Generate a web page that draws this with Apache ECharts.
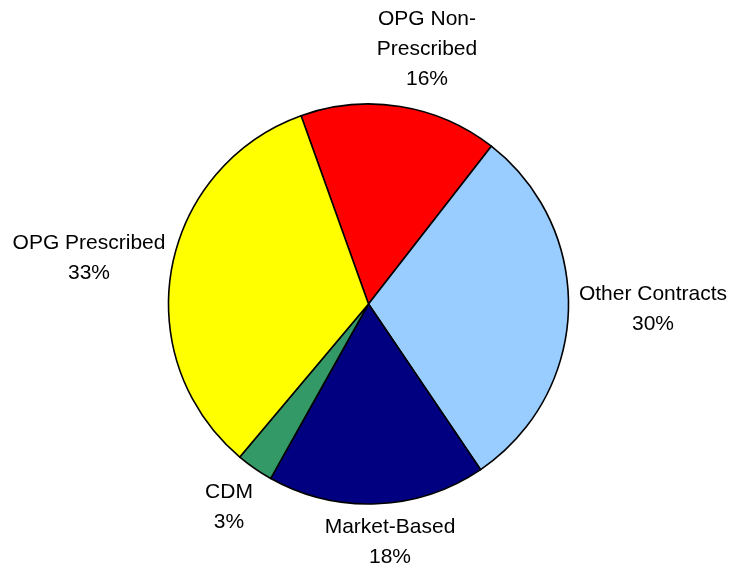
<!DOCTYPE html>
<html>
<head>
<meta charset="utf-8">
<script src="https://cdn.jsdelivr.net/npm/echarts@6/dist/echarts.min.js"></script>
<style>
    html, body { margin: 0; padding: 0; background: #fff; }
    #chart { width: 733px; height: 567px; }
</style>
</head>
<body>
<div id="chart"></div>
<script>
// slice data, clockwise starting from the top-left slice
const categories = ['OPG Non-Prescribed', 'Other Contracts', 'Market-Based', 'CDM', 'OPG Prescribed'];
const shares = [16.0, 30.0, 17.6, 3.0, 33.4];
const sliceColors = ['#FF0000', '#99CCFF', '#000080', '#339966', '#FFFF00'];

// label centres (px), same order as categories
const labelPos = [[427, 49], [653, 309], [390, 542], [229, 507], [89, 258]];

var myChart = echarts.init(document.getElementById('chart'));
var option = {
    animation: false,
    series: [
        {
            type: 'pie',
            center: [368.5, 304],
            radius: 200,
            startAngle: 109.7,
            clockwise: true,
            emphasis: { disabled: true },
            itemStyle: {
                borderColor: '#000',
                borderWidth: 1.6
            },
            label: {
                show: true,
                position: 'inside',
                overflow: 'none',
                color: '#000',
                fontFamily: 'Liberation Sans, Arial, sans-serif',
                fontSize: 21,
                lineHeight: 30,
                formatter: function (p) {
                    return p.name.replace('Non-', 'Non-\n') + '\n' + Math.round(p.percent) + '%';
                }
            },
            labelLine: { show: false },
            labelLayout: function (params) {
                const p = labelPos[params.dataIndex];
                return { x: p[0], y: p[1], align: 'center', verticalAlign: 'middle' };
            },
            data: categories.map(function (name, i) {
                return { name: name, value: shares[i], itemStyle: { color: sliceColors[i] } };
            })
        }
    ]
};
myChart.setOption(option);
</script>
</body>
</html>
